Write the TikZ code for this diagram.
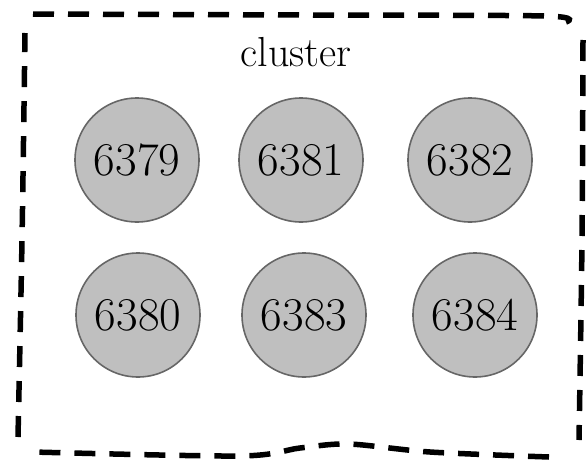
\documentclass[tikz,border=0pt]{standalone}
\begin{document}
\begin{tikzpicture}[x=1pt,y=-1pt]
\useasboundingbox (0,0) rectangle (586,463);
\tikzset{
  srv/.style={circle, draw=black!60, fill=black!25, line width=1.6pt,
    minimum size=124pt, inner sep=0pt, font=\fontsize{47}{47}\selectfont},
  frameline/.style={draw=black, line width=5.5pt, dash pattern=on 21pt off 14pt},
  titlelbl/.style={font=\fontsize{42}{42}\selectfont}
}
\draw[frameline] plot[smooth, tension=0.5] coordinates {(33,14) (300,15) (545,16) (566,22)};
\draw[frameline] plot[smooth, tension=0.5] coordinates {(583,40) (582,240) (579,440)};
\draw[frameline] plot[smooth, tension=0.5] coordinates {(549,457) (430,452) (349,444) (300,448) (240,456) (33,452)};
\draw[frameline] plot[smooth, tension=0.5] coordinates {(18,437) (22,240) (25,33)};
\node[titlelbl] (title) at (296,52) {cluster};
\node[srv] (n6379) at (137,160) {6379};
\node[srv] (n6381) at (301,160) {6381};
\node[srv] (n6382) at (470,160) {6382};
\node[srv] (n6380) at (138,315) {6380};
\node[srv] (n6383) at (304,315) {6383};
\node[srv] (n6384) at (475,315) {6384};
\end{tikzpicture}
\end{document}
